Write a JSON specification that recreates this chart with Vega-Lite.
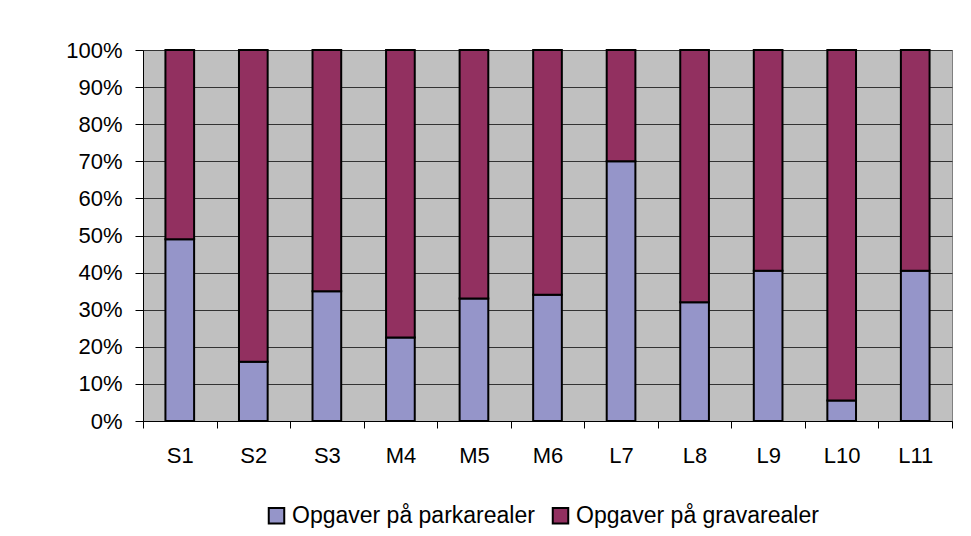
{
  "$schema": "https://vega.github.io/schema/vega-lite/v6.json",
  "width": 809,
  "height": 371,
  "autosize": "none",
  "padding": {"left": 143, "top": 50, "right": 19, "bottom": 115},
  "background": "white",
  "config": {
    "font": "Liberation Sans",
    "view": {"fill": "#C0C0C0", "stroke": "#808080", "strokeWidth": 1}
  },
  "data": {
    "values": [
      {"omraade": "S1", "serie": "Opgaver på parkarealer", "andel": 49},
      {"omraade": "S1", "serie": "Opgaver på gravarealer", "andel": 51},
      {"omraade": "S2", "serie": "Opgaver på parkarealer", "andel": 16},
      {"omraade": "S2", "serie": "Opgaver på gravarealer", "andel": 84},
      {"omraade": "S3", "serie": "Opgaver på parkarealer", "andel": 35},
      {"omraade": "S3", "serie": "Opgaver på gravarealer", "andel": 65},
      {"omraade": "M4", "serie": "Opgaver på parkarealer", "andel": 22.5},
      {"omraade": "M4", "serie": "Opgaver på gravarealer", "andel": 77.5},
      {"omraade": "M5", "serie": "Opgaver på parkarealer", "andel": 33},
      {"omraade": "M5", "serie": "Opgaver på gravarealer", "andel": 67},
      {"omraade": "M6", "serie": "Opgaver på parkarealer", "andel": 34},
      {"omraade": "M6", "serie": "Opgaver på gravarealer", "andel": 66},
      {"omraade": "L7", "serie": "Opgaver på parkarealer", "andel": 70},
      {"omraade": "L7", "serie": "Opgaver på gravarealer", "andel": 30},
      {"omraade": "L8", "serie": "Opgaver på parkarealer", "andel": 32},
      {"omraade": "L8", "serie": "Opgaver på gravarealer", "andel": 68},
      {"omraade": "L9", "serie": "Opgaver på parkarealer", "andel": 40.5},
      {"omraade": "L9", "serie": "Opgaver på gravarealer", "andel": 59.5},
      {"omraade": "L10", "serie": "Opgaver på parkarealer", "andel": 5.5},
      {"omraade": "L10", "serie": "Opgaver på gravarealer", "andel": 94.5},
      {"omraade": "L11", "serie": "Opgaver på parkarealer", "andel": 40.5},
      {"omraade": "L11", "serie": "Opgaver på gravarealer", "andel": 59.5}
    ]
  },
  "mark": {"type": "bar", "width": {"band": 0.39}, "stroke": "black", "strokeWidth": 2},
  "encoding": {
    "x": {
      "field": "omraade",
      "type": "nominal",
      "sort": null,
      "scale": {"paddingInner": 0, "paddingOuter": 0},
      "axis": {
        "title": null,
        "labelAngle": 0,
        "tickBand": "extent",
        "tickSize": 7,
        "tickColor": "black",
        "domainColor": "black",
        "labelFontSize": 22,
        "labelColor": "black",
        "labelPadding": 17,
        "grid": false
      }
    },
    "y": {
      "field": "andel",
      "type": "quantitative",
      "stack": "normalize",
      "scale": {"domain": [0, 1]},
      "axis": {
        "title": null,
        "values": [0, 0.1, 0.2, 0.3, 0.4, 0.5, 0.6, 0.7, 0.8, 0.9, 1],
        "format": ".0%",
        "grid": true,
        "gridColor": "#333333",
        "gridWidth": 1,
        "tickSize": 8,
        "tickColor": "black",
        "domainColor": "black",
        "labelFontSize": 22,
        "labelColor": "black",
        "labelPadding": 13
      }
    },
    "color": {
      "field": "serie",
      "type": "nominal",
      "scale": {
        "domain": ["Opgaver på parkarealer", "Opgaver på gravarealer"],
        "range": ["#9595C9", "#923060"]
      },
      "legend": {
        "orient": "none",
        "legendX": 122,
        "legendY": 454,
        "direction": "horizontal",
        "title": null,
        "symbolType": "square",
        "symbolSize": 240,
        "symbolStrokeColor": "black",
        "symbolStrokeWidth": 2,
        "symbolOpacity": 1,
        "labelFontSize": 23,
        "labelLimit": 0,
        "labelColor": "black",
        "labelOffset": 4,
        "columnPadding": 13,
        "padding": 0
      }
    },
    "order": {"field": "serie", "sort": "descending"}
  }
}
